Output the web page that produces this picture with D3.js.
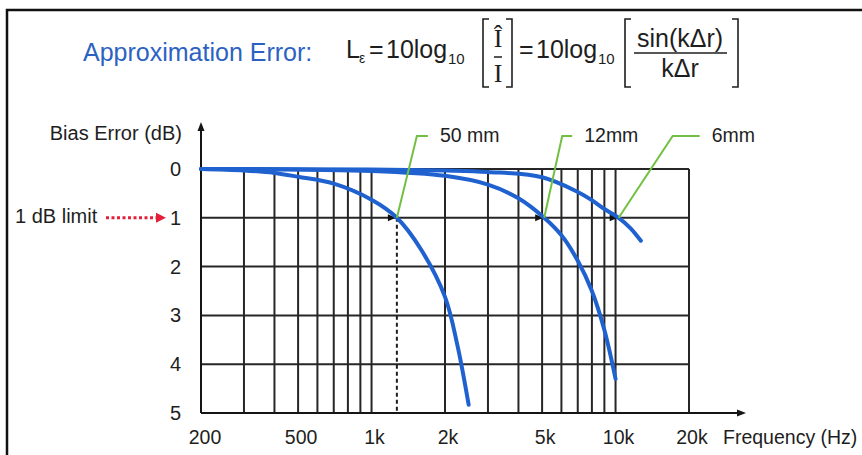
<!DOCTYPE html>
<html>
<head>
<meta charset="utf-8">
<script src="https://cdn.jsdelivr.net/npm/d3@7"></script>
<style>
  body { margin: 0; background: #fff; }
  text { font-family: "Liberation Sans", Arial, Helvetica, sans-serif; }
</style>
</head>
<body>
<svg id="chart" width="862" height="455"></svg>
<script>
// axis values
const dbTicks = [0, 1, 2, 3, 4, 5];
const freqTicks = [200, 500, 1000, 2000, 5000, 10000, 20000];
const freqTickLabels = ["200", "500", "1k", "2k", "5k", "10k", "20k"];
const gridFreqs = [300, 400, 500, 600, 700, 800, 900, 1000,
  2000, 3000, 4000, 5000, 6000, 7000, 8000, 9000, 10000, 20000];

// curves (Hz, dB)
const freq50 = [200, 300, 400, 500, 700, 1000, 1270, 1600, 2000, 2250, 2500];
const err50 = [0, 0.03, 0.08, 0.16, 0.3, 0.63, 1.0, 1.66, 2.62, 3.62, 4.83];
const freq12 = [200, 1000, 2000, 3000, 4000, 5100, 6000, 7000, 8000, 9000, 10000];
const err12 = [0, 0.04, 0.14, 0.32, 0.6, 1.0, 1.36, 1.88, 2.5, 3.3, 4.3];
const freq6 = [200, 1000, 2000, 3000, 5000, 7000, 8000, 9000, 10300, 11500, 12700];
const err6 = [0, 0.01, 0.03, 0.06, 0.17, 0.47, 0.64, 0.82, 1.0, 1.21, 1.47];

const seriesNames = ["50 mm", "12mm", "6mm"];
const limitFreqs = [1270, 5100, 10300];   // where each curve crosses 1 dB
const limitDb = 1;

const svg = d3.select("#chart");

const x = d3.scaleLog().domain([200, 20000]).range([201, 689]);
const y = d3.scaleLinear().domain([0, 5]).range([169, 413]);

const ink = "#1e1e1e";
const blue = "#1f62cf";
const green = "#72c043";

// frame (top + left edges only)
svg.append("path")
  .attr("d", "M7,455 V10 H862")
  .attr("fill", "none")
  .attr("stroke", "#111")
  .attr("stroke-width", 2.5);

// ---- formula header ----
const head = svg.append("g").attr("fill", ink);
head.append("text").attr("x", 83).attr("y", 61).attr("font-size", 25)
  .attr("fill", "#2b62c2").text("Approximation Error:");
head.append("text").attr("x", 346).attr("y", 58).attr("font-size", 25).text("L");
head.append("text").attr("x", 359).attr("y", 63).attr("font-size", 14).text("ε");
head.append("text").attr("x", 369).attr("y", 58).attr("font-size", 25).text("=");
head.append("text").attr("x", 386).attr("y", 58).attr("font-size", 25).text("10log");
head.append("text").attr("x", 448).attr("y", 64).attr("font-size", 15).text("10");
head.append("text").attr("x", 519).attr("y", 58).attr("font-size", 25).text("=");
head.append("text").attr("x", 536).attr("y", 58).attr("font-size", 25).text("10log");
head.append("text").attr("x", 598).attr("y", 64).attr("font-size", 15).text("10");

function bracket(x0, dir) {
  head.append("path")
    .attr("d", `M${x0 + dir * 6},19 H${x0} V87 H${x0 + dir * 6}`)
    .attr("fill", "none").attr("stroke", ink).attr("stroke-width", 1.6);
}
bracket(483, 1);
bracket(512, -1);
bracket(625, 1);
bracket(738, -1);

head.append("text").attr("x", 498).attr("y", 47).attr("font-size", 26)
  .attr("text-anchor", "middle").style("font-family", "'Liberation Serif', serif").text("Î");
head.append("line").attr("x1", 494).attr("x2", 502).attr("y1", 57).attr("y2", 57)
  .attr("stroke", ink).attr("stroke-width", 1.5);
head.append("text").attr("x", 498).attr("y", 82).attr("font-size", 26)
  .attr("text-anchor", "middle").style("font-family", "'Liberation Serif', serif").text("I");

head.append("text").attr("x", 680).attr("y", 47).attr("font-size", 25)
  .attr("text-anchor", "middle").text("sin(kΔr)");
head.append("line").attr("x1", 634).attr("x2", 727).attr("y1", 53).attr("y2", 53)
  .attr("stroke", ink).attr("stroke-width", 1.5);
head.append("text").attr("x", 680).attr("y", 77).attr("font-size", 25)
  .attr("text-anchor", "middle").text("kΔr");

// ---- grid ----
const grid = svg.append("g").attr("stroke", "#262626").attr("stroke-width", 2);
grid.selectAll("line.v").data(gridFreqs).join("line").attr("class", "v")
  .attr("x1", d => x(d)).attr("x2", d => x(d))
  .attr("y1", y(0)).attr("y2", y(5));
grid.selectAll("line.h").data(dbTicks.slice(0, -1)).join("line").attr("class", "h")
  .attr("x1", x(200)).attr("x2", x(20000))
  .attr("y1", d => y(d)).attr("y2", d => y(d));

// axes with arrows
const axes = svg.append("g").attr("stroke", "#151515").attr("stroke-width", 2);
axes.append("line").attr("x1", x(200)).attr("x2", x(200)).attr("y1", y(5)).attr("y2", 128);
axes.append("line").attr("x1", x(200)).attr("x2", 739).attr("y1", y(5)).attr("y2", y(5));
svg.append("path").attr("d", `M${x(200)},122 l-3.5,9 h7 z`).attr("fill", "#151515");
svg.append("path").attr("d", `M746,${y(5)} l-9,-3.5 v7 z`).attr("fill", "#151515");

// tick labels
svg.append("g").selectAll("text").data(dbTicks).join("text")
  .attr("x", 181).attr("y", d => y(d) + 7)
  .attr("text-anchor", "end").attr("font-size", 20).attr("fill", ink)
  .text(d => d);
svg.append("g").selectAll("text").data(freqTicks).join("text")
  .attr("x", (d, i) => x(d) + (i === 0 ? 4 : 3)).attr("y", 444)
  .attr("text-anchor", "middle").attr("font-size", 19.5).attr("fill", ink)
  .text((d, i) => freqTickLabels[i]);

svg.append("text").attr("x", 182).attr("y", 140).attr("text-anchor", "end")
  .attr("font-size", 20).attr("fill", ink).text("Bias Error (dB)");
svg.append("text").attr("x", 723).attr("y", 444)
  .attr("font-size", 19.5).attr("fill", ink).text("Frequency (Hz)");

// 1 dB limit marker
svg.append("text").attr("x", 15).attr("y", 223)
  .attr("font-size", 20).attr("fill", ink).text("1 dB limit");
svg.append("line").attr("x1", 106).attr("x2", 156).attr("y1", y(1)).attr("y2", y(1))
  .attr("stroke", "#e3203a").attr("stroke-width", 3).attr("stroke-dasharray", "3,2.5");
svg.append("path").attr("d", `M166,${y(1)} l-10,-5 v10 z`).attr("fill", "#e3203a");

// dashed drop line from 50 mm crossing
svg.append("line")
  .attr("x1", x(limitFreqs[0])).attr("x2", x(limitFreqs[0]))
  .attr("y1", y(limitDb)).attr("y2", y(5))
  .attr("stroke", ink).attr("stroke-width", 2).attr("stroke-dasharray", "4,3");

// small arrowheads on the 1 dB line at each crossing
svg.append("g").selectAll("path").data(limitFreqs).join("path")
  .attr("d", d => `M${x(d) - 1},${y(limitDb)} l-8,-3.5 v7 z`)
  .attr("fill", "#111");

// curves
const line = d3.line().x(d => x(d[0])).y(d => y(d[1])).curve(d3.curveCatmullRom.alpha(0.5));
const series = [
  d3.zip(freq50, err50),
  d3.zip(freq12, err12),
  d3.zip(freq6, err6)
];
svg.append("g").selectAll("path").data(series).join("path")
  .attr("d", line)
  .attr("fill", "none")
  .attr("stroke", blue)
  .attr("stroke-width", 4)
  .attr("stroke-linecap", "round");

// green callouts
const calloutElbowDx = [20, 18, 54];
const calloutTailDx = [11, 10, 27];
const callY = 136;
svg.append("g").selectAll("path").data(limitFreqs).join("path")
  .attr("d", (d, i) => {
    const x0 = x(d), ex = x0 + calloutElbowDx[i];
    return `M${x0},${y(limitDb)} L${ex},${callY} H${ex + calloutTailDx[i]}`;
  })
  .attr("fill", "none").attr("stroke", green).attr("stroke-width", 2);
svg.append("g").selectAll("text").data(limitFreqs).join("text")
  .attr("x", (d, i) => x(d) + calloutElbowDx[i] + calloutTailDx[i] + 12)
  .attr("y", 142)
  .attr("font-size", 19.5).attr("fill", ink)
  .text((d, i) => seriesNames[i]);
</script>
</body>
</html>
